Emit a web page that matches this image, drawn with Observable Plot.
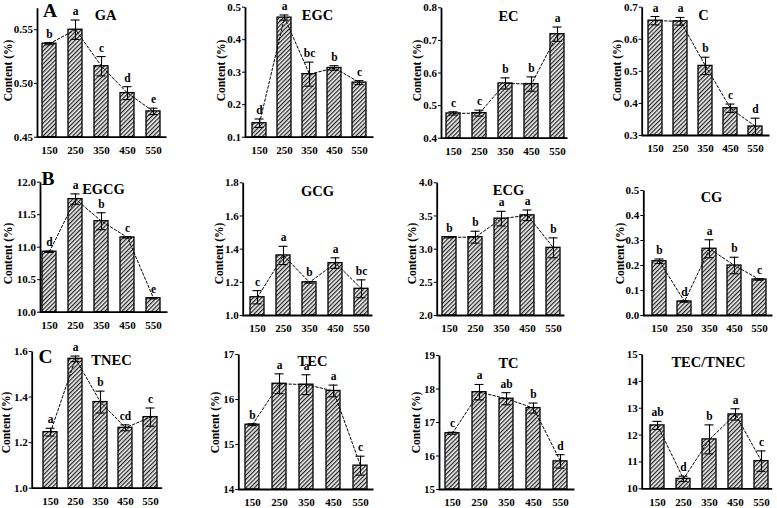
<!DOCTYPE html>
<html><head><meta charset="utf-8">
<script src="https://cdn.jsdelivr.net/npm/d3@7"></script>
<script src="https://cdn.jsdelivr.net/npm/@observablehq/plot@0.6"></script>
<style>
html,body{margin:0;padding:0;background:#fff;}
#root{position:relative;width:777px;height:508px;overflow:hidden;background:#fff;}
.cell{position:absolute;}
</style></head>
<body>
<svg width="0" height="0" style="position:absolute">
 <defs><pattern id="hatch" patternUnits="userSpaceOnUse" width="3" height="3" patternTransform="rotate(45)">
  <rect width="3" height="3" fill="#f0f0f0"/>
  <line x1="0.6" y1="0" x2="0.6" y2="3" stroke="#222" stroke-width="1.25"/>
 </pattern></defs></svg>
<div id="root"></div>
<script>
// ---------- data ----------
const temps = ["150","250","350","450","550"];

const gaMean = [0.537, 0.550, 0.516, 0.491, 0.474];
const gaErr  = [0.001, 0.009, 0.009, 0.006, 0.003];
const gaSig  = ["b","a","c","d","e"];
const gaTicks = [0.45, 0.50, 0.55];

const egcMean = [0.143, 0.468, 0.294, 0.313, 0.268];
const egcErr  = [0.013, 0.008, 0.037, 0.007, 0.006];
const egcSig  = ["d","a","bc","b","c"];
const egcTicks = [0.1, 0.2, 0.3, 0.4, 0.5];

const ecMean = [0.476, 0.477, 0.568, 0.566, 0.719];
const ecErr  = [0.005, 0.009, 0.017, 0.022, 0.022];
const ecSig  = ["c","c","b","b","a"];
const ecTicks = [0.4, 0.5, 0.6, 0.7, 0.8];

const cMean = [0.658, 0.656, 0.517, 0.385, 0.328];
const cErr  = [0.013, 0.012, 0.027, 0.013, 0.026];
const cSig  = ["a","a","b","c","d"];
const cTicks = [0.3, 0.4, 0.5, 0.6, 0.7];

const egcgMean = [10.93, 11.74, 11.40, 11.15, 10.215];
const egcgErr  = [0.01, 0.08, 0.13, 0.01, 0.01];
const egcgSig  = ["d","a","b","c","e"];
const egcgTicks = [10.0, 10.5, 11.0, 11.5, 12.0];

const gcgMean = [1.11, 1.362, 1.20, 1.316, 1.161];
const gcgErr  = [0.04, 0.055, 0.005, 0.032, 0.054];
const gcgSig  = ["c","a","b","a","bc"];
const gcgTicks = [1.0, 1.2, 1.4, 1.6, 1.8];

const ecgMean = [3.18, 3.18, 3.46, 3.51, 3.02];
const ecgErr  = [0.01, 0.09, 0.11, 0.08, 0.15];
const ecgSig  = ["b","b","a","a","b"];
const ecgTicks = [2.0, 2.5, 3.0, 3.5, 4.0];

const cgMean = [0.217, 0.056, 0.267, 0.200, 0.144];
const cgErr  = [0.009, 0.003, 0.036, 0.033, 0.003];
const cgSig  = ["b","d","a","b","c"];
const cgTicks = [0.0, 0.1, 0.2, 0.3, 0.4, 0.5];

const tnecMean = [1.246, 1.568, 1.378, 1.265, 1.312];
const tnecErr  = [0.017, 0.012, 0.048, 0.013, 0.040];
const tnecSig  = ["a","a","b","cd","c"];
const tnecTicks = [1.0, 1.2, 1.4, 1.6];

const tecMean = [15.44, 16.35, 16.33, 16.19, 14.53];
const tecErr  = [0.02, 0.22, 0.22, 0.13, 0.21];
const tecSig  = ["b","a","a","a","c"];
const tecTicks = [14, 15, 16, 17];

const tcMean = [16.68, 17.905, 17.71, 17.43, 15.84];
const tcErr  = [0.03, 0.23, 0.18, 0.15, 0.20];
const tcSig  = ["c","a","ab","b","d"];
const tcTicks = [15, 16, 17, 18, 19];

const ratioMean = [12.36, 10.37, 11.84, 12.77, 11.03];
const ratioErr  = [0.15, 0.10, 0.54, 0.21, 0.38];
const ratioSig  = ["ab","d","b","a","c"];
const ratioTicks = [10, 11, 12, 13, 14, 15];

const yLabel = "Content (%)";

// ---------- layout ----------
const colLeft = [0, 190, 385, 580], colWidth = [190, 195, 195, 197];
const rowTop = [0, 165, 335], rowHeight = [165, 170, 173];
const FONT = '"Liberation Serif","Times New Roman",serif';

const panels = [
  {row:0,col:0,title:"GA",mean:gaMean,err:gaErr,sig:gaSig,ticks:gaTicks,fmt:".2f",domain:[0.45,0.57],
   ax:37,xr:166,yt:7.7,yb:136.7,c1:49,c5:153,tx:105,ty:19.5,lx:7.5,ly:70,letter:"A",ltx:42.5,lty:16.5},
  {row:0,col:1,title:"EGC",mean:egcMean,err:egcErr,sig:egcSig,ticks:egcTicks,fmt:".1f",domain:[0.1,0.5],
   ax:245,xr:373,yt:6.7,yb:136.7,c1:256.7,c5:360,tx:317,ty:19.5,lx:221,ly:70},
  {row:0,col:2,title:"EC",mean:ecMean,err:ecErr,sig:ecSig,ticks:ecTicks,fmt:".1f",domain:[0.4,0.8],
   ax:441,xr:567,yt:7.3,yb:137.7,c1:453,c5:557,tx:508,ty:20,lx:416.5,ly:70},
  {row:0,col:3,title:"C",mean:cMean,err:cErr,sig:cSig,ticks:cTicks,fmt:".1f",domain:[0.3,0.7],
   ax:641.7,xr:769,yt:6.7,yb:135,c1:653,c5:756,tx:703,ty:19,lx:616.5,ly:70},
  {row:1,col:0,title:"EGCG",mean:egcgMean,err:egcgErr,sig:egcgSig,ticks:egcgTicks,fmt:".1f",domain:[10,12],
   ax:40,xr:167,yt:181.7,yb:311.7,c1:48.3,c5:153,tx:103,ty:193.5,lx:7.5,ly:253,letter:"B",ltx:41,lty:184},
  {row:1,col:1,title:"GCG",mean:gcgMean,err:gcgErr,sig:gcgSig,ticks:gcgTicks,fmt:".1f",domain:[1.0,1.8],
   ax:242.7,xr:372,yt:182.3,yb:315,c1:256.7,c5:360.7,tx:317,ty:195,lx:218.5,ly:253},
  {row:1,col:2,title:"ECG",mean:ecgMean,err:ecgErr,sig:ecgSig,ticks:ecgTicks,fmt:".1f",domain:[2,4],
   ax:436.7,xr:564,yt:182.3,yb:315,c1:449,c5:553,tx:508,ty:194,lx:411.7,ly:253},
  {row:1,col:3,title:"CG",mean:cgMean,err:cgErr,sig:cgSig,ticks:cgTicks,fmt:".1f",domain:[0,0.5],
   ax:643.3,xr:772,yt:190,yb:315,c1:656.7,c5:760,tx:711,ty:201.7,lx:619.5,ly:253},
  {row:2,col:0,title:"TNEC",mean:tnecMean,err:tnecErr,sig:tnecSig,ticks:tnecTicks,fmt:".1f",domain:[1.0,1.6],
   ax:31.7,xr:161.7,yt:351,yb:487.7,c1:48.3,c5:150.7,tx:111,ty:364.5,lx:6,ly:422,letter:"C",ltx:38,lty:362},
  {row:2,col:1,title:"TEC",mean:tecMean,err:tecErr,sig:tecSig,ticks:tecTicks,fmt:"d",domain:[14,17],
   ax:238.3,xr:373,yt:354,yb:489,c1:251,c5:360,tx:312,ty:365.5,lx:215,ly:422},
  {row:2,col:2,title:"TC",mean:tcMean,err:tcErr,sig:tcSig,ticks:tcTicks,fmt:"d",domain:[15,19],
   ax:439,xr:574,yt:355,yb:489,c1:451.7,c5:560.7,tx:508,ty:367.3,lx:415.5,ly:422},
  {row:2,col:3,title:"TEC/TNEC",mean:ratioMean,err:ratioErr,sig:ratioSig,ticks:ratioTicks,fmt:"d",domain:[10,15],
   ax:641.7,xr:771.7,yt:354,yb:488.3,c1:656.7,c5:761.7,tx:708,ty:366,lx:null,ly:null}
];

const root = document.getElementById("root");
const bw = 14;

for (const p of panels) {
  const cl = colLeft[p.col], cw = colWidth[p.col], rt = rowTop[p.row], rh = rowHeight[p.row];
  const data = temps.map((t, i) => ({t, v: p.mean[i], lo: p.mean[i] - p.err[i], hi: p.mean[i] + p.err[i], sig: p.sig[i]}));
  const step = (p.c5 - p.c1) / 4;
  const W = p.xr - p.ax, H = p.yb - p.yt;
  const marks = [
    Plot.barY(data, {x: "t", y1: p.domain[0], y2: "v", fill: "url(#hatch)", stroke: "black", strokeWidth: 1.3}),
    Plot.ruleX(data, {x: "t", y1: "lo", y2: "hi", stroke: "black", strokeWidth: 1.1}),
    Plot.tickY(data, {x: "t", y: "hi", insetLeft: 2.5, insetRight: 2.5, stroke: "black", strokeWidth: 1.1}),
    Plot.tickY(data, {x: "t", y: "lo", insetLeft: 2.5, insetRight: 2.5, stroke: "black", strokeWidth: 1.1}),
    Plot.line(data, {x: "t", y: "v", stroke: "black", strokeWidth: 1, strokeDasharray: "2.5,2"}),
    Plot.text(data, {x: "t", y: "hi", text: "sig", dy: -5, lineAnchor: "bottom", fontSize: 11.5}),
    Plot.frame({stroke: "black", strokeWidth: 1.8, strokeDasharray: `0 ${W + H} ${W + H}`}),
    Plot.text([p.title], {frameAnchor: "top-left", dx: p.tx - p.ax, dy: p.ty - p.yt, lineAnchor: "bottom", textAnchor: "middle", fontSize: 14.5})
  ];
  if (p.lx != null) {
    marks.push(Plot.text([yLabel], {frameAnchor: "top-left", dx: p.lx - p.ax, dy: p.ly - p.yt, rotate: -90, textAnchor: "middle", lineAnchor: "middle", fontSize: 11.5}));
  }
  if (p.letter) {
    marks.push(Plot.text([p.letter], {frameAnchor: "top-left", dx: p.ltx - p.ax, dy: p.lty - p.yt, lineAnchor: "bottom", textAnchor: "start", fontSize: 19.5}));
  }
  const chart = Plot.plot({
    width: cw, height: rh,
    marginLeft: p.ax - cl, marginRight: cl + cw - p.xr,
    marginTop: p.yt - rt, marginBottom: rt + rh - p.yb,
    style: {background: "transparent", fontFamily: FONT, fontSize: "11px", fontWeight: "bold", overflow: "visible", color: "black"},
    x: {type: "band", domain: temps, range: [p.c1 - bw / 2 - cl, p.c5 + bw / 2 - cl], paddingInner: 1 - bw / step, paddingOuter: 0,
        tickSize: 0, tickPadding: 9, label: null},
    y: {domain: p.domain, ticks: p.ticks, tickFormat: d3.format(p.fmt), tickSize: 3, tickPadding: 1.5, label: null},
    marks
  });
  const div = document.createElement("div");
  div.className = "cell";
  div.style.left = cl + "px";
  div.style.top = rt + "px";
  div.style.width = cw + "px";
  div.style.height = rh + "px";
  div.appendChild(chart);
  root.appendChild(div);
}
</script>
</body></html>
